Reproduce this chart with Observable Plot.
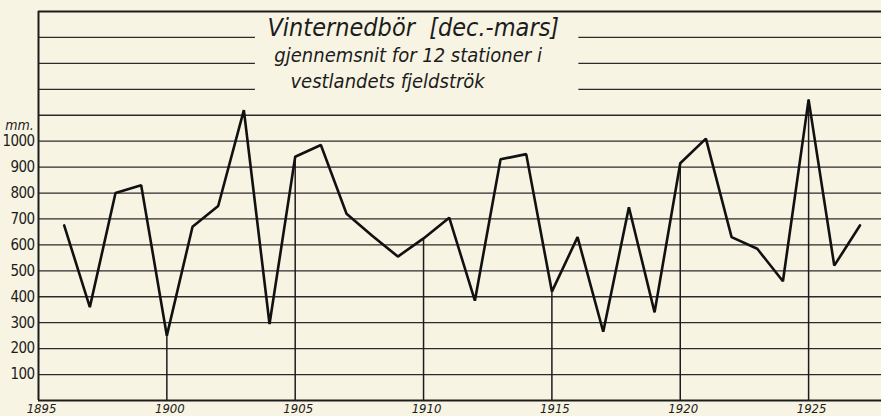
<!DOCTYPE html>
<html><head><meta charset="utf-8">
<script src="https://cdn.jsdelivr.net/npm/d3@7"></script>
<script src="https://cdn.jsdelivr.net/npm/@observablehq/plot@0.6"></script>
<style>
html,body{margin:0;padding:0;background:#f8f4e3;}
.ylab text{letter-spacing:-0.6px;}
</style></head><body><div id="chart"></div>
<script>
const years = [1896,1897,1898,1899,1900,1901,1902,1903,1904,1905,1906,1907,1908,1909,1910,1911,1912,1913,1914,1915,1916,1917,1918,1919,1920,1921,1922,1923,1924,1925,1926,1927];
const values = [675,360,800,830,250,670,750,1120,295,940,985,720,635,555,625,705,385,930,950,420,630,265,745,340,915,1010,630,585,460,1160,520,675];
const markedYears = [1900,1905,1910,1915,1920,1925];
const gridValues = [100,200,300,400,500,600,700,800,900,1000,1100];
const titledGridValues = [1400,1300,1200];
const yTickValues = [100,200,300,400,500,600,700,800,900,1000];
const xTickValues = [1895,1900,1905,1910,1915,1920,1925];
const titleLines = ["Vinternedbör  [dec.-mars]", "gjennemsnit for 12 stationer i", "vestlandets fjeldströk"];
const titleCenters = [1909.6, 1909.4, 1908.6];
const unitLabel = "mm.";
const xStart = 1895, xEnd = 1927.84, yTop = 1500;
const gapStart = 1903.45, gapEnd = 1916.05;

const data = years.map((y, i) => ({year: y, value: values[i]}));
const ink = "#1c1c1c";
const font = "'DejaVu Sans Condensed','DejaVu Sans',sans-serif";
const rows = titleLines.map((t, i) => ({text: t, x: titleCenters[i], y: titledGridValues[i]}));

const chart = Plot.plot({
  width: 881, height: 416,
  marginLeft: 38, marginRight: 0, marginTop: 11, marginBottom: 16,
  style: {background: "#f8f4e3", color: ink, fontFamily: font},
  x: {domain: [xStart, xEnd], axis: null},
  y: {domain: [0, yTop], axis: null},
  marks: [
    Plot.ruleY(gridValues, {stroke: "#2b2b2b", strokeWidth: 1.3}),
    Plot.ruleY(titledGridValues, {x1: xStart, x2: gapStart, stroke: "#2b2b2b", strokeWidth: 1.3}),
    Plot.ruleY(titledGridValues, {x1: gapEnd, x2: xEnd, stroke: "#2b2b2b", strokeWidth: 1.3}),
    Plot.ruleY([yTop], {stroke: ink, strokeWidth: 2}),
    Plot.ruleY([0], {stroke: ink, strokeWidth: 2}),
    Plot.ruleX([xStart], {y1: 0, y2: yTop, stroke: ink, strokeWidth: 2}),
    Plot.ruleX(data.filter(d => markedYears.includes(d.year)), {x: "year", y1: 0, y2: "value", stroke: ink, strokeWidth: 1.5}),
    Plot.line(data, {x: "year", y: "value", stroke: "#111", strokeWidth: 2.6, strokeLinejoin: "miter"}),
    Plot.text(yTickValues, {x: xStart, y: d => d, text: d => String(d), dx: -4, textAnchor: "end", fontSize: 15, fontWeight: 500, fill: ink, className: "ylab"}),
    Plot.text(xTickValues, {x: d => d, y: 0, text: d => String(d), dx: 3, dy: 8, lineAnchor: "middle", fontSize: 13, fontStyle: "italic", fill: ink}),
    Plot.text([unitLabel], {x: xStart, y: 1000, dx: -19, dy: -16, fontStyle: "italic", fontSize: 14, fill: ink}),
    Plot.text(rows.slice(0,1), {x: "x", y: "y", text: "text", fontSize: 25, fontStyle: "italic", lineAnchor: "bottom", dy: -1, fill: ink}),
    Plot.text(rows.slice(1), {x: "x", y: "y", text: "text", fontSize: 20, fontStyle: "italic", lineAnchor: "bottom", dy: -1, fill: ink})
  ]
});
document.getElementById("chart").append(chart);
</script></body></html>
